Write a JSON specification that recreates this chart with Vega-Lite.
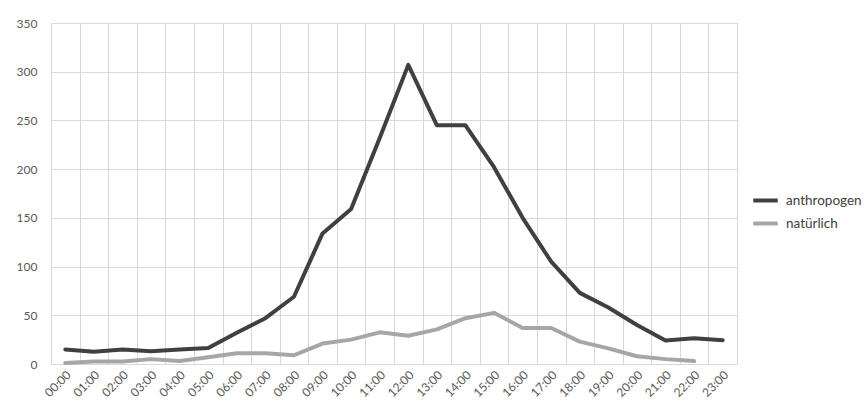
{
  "$schema": "https://vega.github.io/schema/vega-lite/v6.json",
  "width": 686,
  "height": 341,
  "autosize": {"type": "none"},
  "padding": {"left": 51, "top": 23, "right": 129, "bottom": 46},
  "background": "white",
  "config": {
    "font": "Lato",
    "view": {"stroke": "#d9d9d9", "strokeWidth": 1},
    "axis": {"labelColor": "#595959", "labelFont": "Lato", "gridColor": "#d9d9d9", "gridWidth": 1}
  },
  "data": {
    "values": [
      {"time": "00:00", "series": "anthropogen", "value": 15},
      {"time": "01:00", "series": "anthropogen", "value": 12.5},
      {"time": "02:00", "series": "anthropogen", "value": 15},
      {"time": "03:00", "series": "anthropogen", "value": 13},
      {"time": "04:00", "series": "anthropogen", "value": 15},
      {"time": "05:00", "series": "anthropogen", "value": 16.5},
      {"time": "06:00", "series": "anthropogen", "value": 32},
      {"time": "07:00", "series": "anthropogen", "value": 47},
      {"time": "08:00", "series": "anthropogen", "value": 69},
      {"time": "09:00", "series": "anthropogen", "value": 134},
      {"time": "10:00", "series": "anthropogen", "value": 159},
      {"time": "11:00", "series": "anthropogen", "value": 232},
      {"time": "12:00", "series": "anthropogen", "value": 307},
      {"time": "13:00", "series": "anthropogen", "value": 245},
      {"time": "14:00", "series": "anthropogen", "value": 245},
      {"time": "15:00", "series": "anthropogen", "value": 202},
      {"time": "16:00", "series": "anthropogen", "value": 150},
      {"time": "17:00", "series": "anthropogen", "value": 105},
      {"time": "18:00", "series": "anthropogen", "value": 73},
      {"time": "19:00", "series": "anthropogen", "value": 58},
      {"time": "20:00", "series": "anthropogen", "value": 40},
      {"time": "21:00", "series": "anthropogen", "value": 24},
      {"time": "22:00", "series": "anthropogen", "value": 26.5},
      {"time": "23:00", "series": "anthropogen", "value": 24.5},
      {"time": "00:00", "series": "natürlich", "value": 1},
      {"time": "01:00", "series": "natürlich", "value": 2.5},
      {"time": "02:00", "series": "natürlich", "value": 2.5},
      {"time": "03:00", "series": "natürlich", "value": 5},
      {"time": "04:00", "series": "natürlich", "value": 3},
      {"time": "05:00", "series": "natürlich", "value": 7},
      {"time": "06:00", "series": "natürlich", "value": 11},
      {"time": "07:00", "series": "natürlich", "value": 11},
      {"time": "08:00", "series": "natürlich", "value": 9},
      {"time": "09:00", "series": "natürlich", "value": 21},
      {"time": "10:00", "series": "natürlich", "value": 25},
      {"time": "11:00", "series": "natürlich", "value": 32.5},
      {"time": "12:00", "series": "natürlich", "value": 29},
      {"time": "13:00", "series": "natürlich", "value": 35.5},
      {"time": "14:00", "series": "natürlich", "value": 47},
      {"time": "15:00", "series": "natürlich", "value": 52.5},
      {"time": "16:00", "series": "natürlich", "value": 37},
      {"time": "17:00", "series": "natürlich", "value": 37},
      {"time": "18:00", "series": "natürlich", "value": 23},
      {"time": "19:00", "series": "natürlich", "value": 16},
      {"time": "20:00", "series": "natürlich", "value": 8},
      {"time": "21:00", "series": "natürlich", "value": 5},
      {"time": "22:00", "series": "natürlich", "value": 3}
    ]
  },
  "layer": [
    {
      "mark": {"type": "line", "opacity": 0},
      "encoding": {
        "x": {
          "field": "time", "type": "ordinal",
          "scale": {"paddingInner": 0, "paddingOuter": 0},
          "axis": {"orient": "top", "grid": true, "tickBand": "extent", "labels": false, "ticks": false, "domain": false, "title": null}
        },
        "y": {"field": "value", "type": "quantitative"},
        "detail": {"field": "series"}
      }
    },
    {
      "mark": {"type": "line", "strokeWidth": 4, "strokeJoin": "round", "strokeCap": "round"},
      "encoding": {
        "x": {
          "field": "time", "type": "ordinal",
          "axis": {"orient": "bottom", "grid": false, "ticks": false, "labelAngle": -45, "labelFontSize": 12, "labelPadding": 5, "domainColor": "#d9d9d9", "title": null}
        },
        "y": {
          "field": "value", "type": "quantitative",
          "scale": {"domain": [0, 350], "nice": false},
          "axis": {"values": [0, 50, 100, 150, 200, 250, 300, 350], "title": null, "ticks": false, "domain": false, "labelFontSize": 12, "labelPadding": 14, "grid": true}
        },
        "color": {
          "field": "series", "type": "nominal",
          "scale": {"domain": ["anthropogen", "natürlich"], "range": ["#404040", "#a6a6a6"]},
          "legend": {
            "title": null, "orient": "none", "legendX": 700, "legendY": 163,
            "symbolType": "stroke", "symbolStrokeWidth": 4, "symbolSize": 600,
            "labelFontSize": 13.5, "labelColor": "#404040", "rowPadding": 0, "labelOffset": 6
          }
        }
      }
    }
  ],
  "resolve": {"axis": {"x": "independent"}}
}
